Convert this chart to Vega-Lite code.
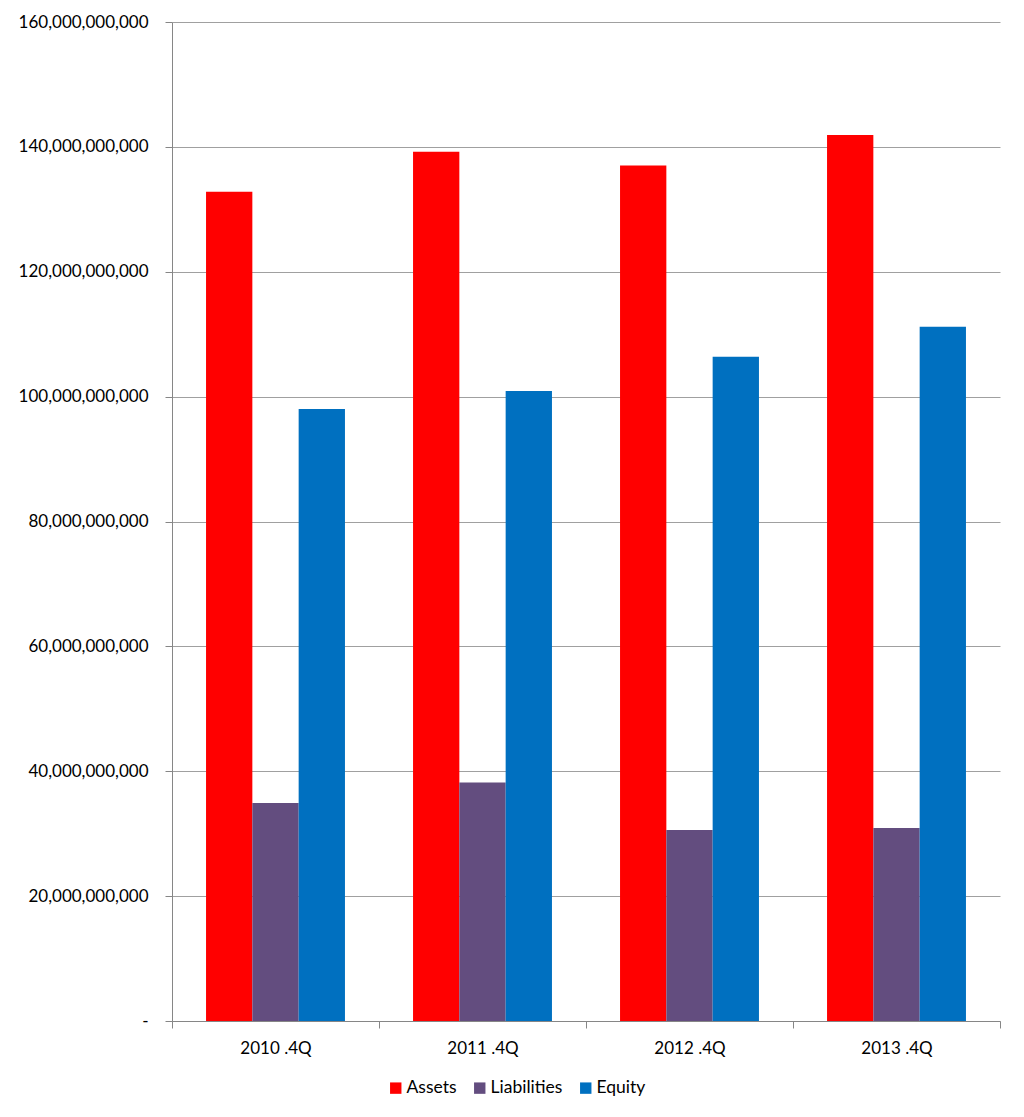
{
  "$schema": "https://vega.github.io/schema/vega-lite/v6.json",
  "autosize": "none",
  "width": 828,
  "height": 999,
  "padding": {"left": 172, "top": 22, "right": 24, "bottom": 96},
  "background": "white",
  "data": {
    "values": [
      {"quarter": "2010 .4Q", "series": "Assets", "value": 132800000000},
      {"quarter": "2010 .4Q", "series": "Liabilities", "value": 34900000000},
      {"quarter": "2010 .4Q", "series": "Equity", "value": 98000000000},
      {"quarter": "2011 .4Q", "series": "Assets", "value": 139200000000},
      {"quarter": "2011 .4Q", "series": "Liabilities", "value": 38200000000},
      {"quarter": "2011 .4Q", "series": "Equity", "value": 100900000000},
      {"quarter": "2012 .4Q", "series": "Assets", "value": 137000000000},
      {"quarter": "2012 .4Q", "series": "Liabilities", "value": 30600000000},
      {"quarter": "2012 .4Q", "series": "Equity", "value": 106400000000},
      {"quarter": "2013 .4Q", "series": "Assets", "value": 141900000000},
      {"quarter": "2013 .4Q", "series": "Liabilities", "value": 30900000000},
      {"quarter": "2013 .4Q", "series": "Equity", "value": 111200000000}
    ]
  },
  "mark": {"type": "bar"},
  "encoding": {
    "x": {
      "field": "quarter",
      "type": "nominal",
      "sort": null,
      "scale": {"paddingInner": 0, "paddingOuter": 0},
      "axis": {
        "title": null,
        "labelAngle": 0,
        "tickBand": "extent",
        "tickSize": 7,
        "tickColor": "#868686",
        "domainColor": "#868686",
        "labelFont": "Lato",
        "labelFontSize": 17,
        "labelColor": "#000000",
        "labelPadding": 12
      }
    },
    "xOffset": {
      "field": "series",
      "type": "nominal",
      "sort": ["Assets", "Liabilities", "Equity"],
      "scale": {"paddingInner": 0, "paddingOuter": 0.735}
    },
    "y": {
      "field": "value",
      "type": "quantitative",
      "scale": {"domain": [0, 160000000000], "nice": false},
      "axis": {
        "title": null,
        "values": [0, 20000000000, 40000000000, 60000000000, 80000000000, 100000000000, 120000000000, 140000000000, 160000000000],
        "labelExpr": "datum.value == 0 ? '-' : format(datum.value, ',.0f')",
        "grid": true,
        "gridColor": "#A0A0A0",
        "gridWidth": 1,
        "tickSize": 7,
        "tickColor": "#868686",
        "domainColor": "#868686",
        "labelFont": "Lato",
        "labelFontSize": 17,
        "labelColor": "#000000",
        "labelPadding": 17
      }
    },
    "color": {
      "field": "series",
      "type": "nominal",
      "sort": ["Assets", "Liabilities", "Equity"],
      "scale": {"domain": ["Assets", "Liabilities", "Equity"], "range": ["#FF0000", "#634D7F", "#0070C0"]},
      "legend": {
        "title": null,
        "orient": "none",
        "direction": "horizontal",
        "legendX": 215,
        "legendY": 1057,
        "symbolType": "square",
        "symbolSize": 130,
        "symbolOpacity": 1,
        "labelFont": "Lato",
        "labelFontSize": 17.5,
        "labelColor": "#000000",
        "labelOffset": 2,
        "columnPadding": 14
      }
    }
  },
  "config": {
    "view": {"stroke": null},
    "axis": {"domainWidth": 1, "tickWidth": 1}
  }
}
